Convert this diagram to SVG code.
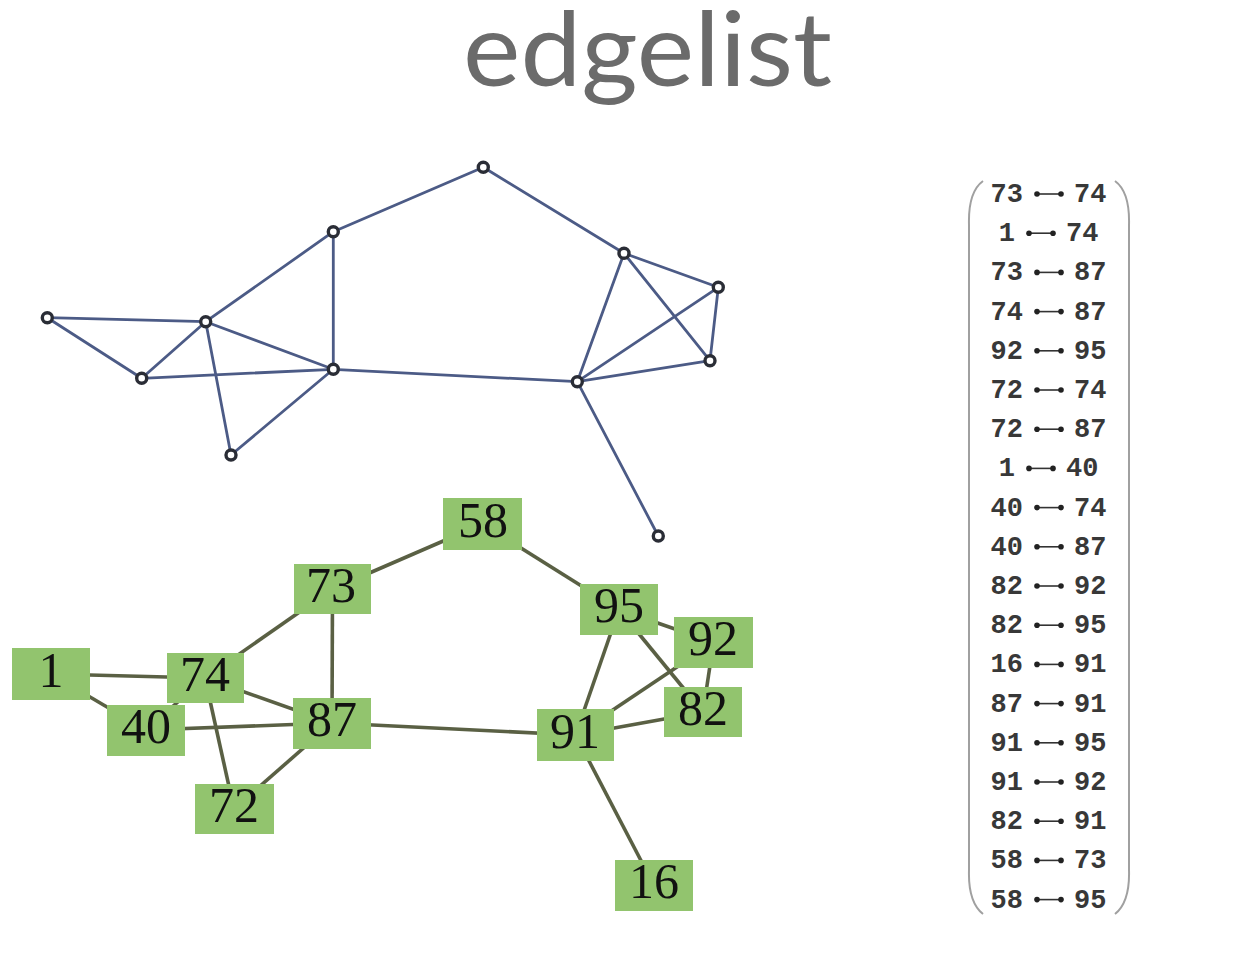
<svg xmlns="http://www.w3.org/2000/svg" xmlns:xlink="http://www.w3.org/1999/xlink" width="1253" height="967" viewBox="0 0 1253 967">
<style>
.title{font-family:Lato,"Open Sans","Liberation Sans",sans-serif;font-size:103px;fill:#6b6b6b;text-anchor:middle}
.te{stroke:#4c5b86;stroke-width:2.8;fill:none;stroke-linecap:round}
.tv{fill:#ffffff;stroke:#2a2d36;stroke-width:3.4}
.be{stroke:#5a6044;stroke-width:3.6;fill:none}
.box{fill:#92c46e}
.lbl{font-family:"Liberation Serif","Times New Roman",serif;font-size:50px;fill:#111;text-anchor:middle}
.el{font-family:"Liberation Mono","Courier New",monospace;font-size:27px;font-weight:bold;fill:#383838}
.l{text-anchor:end}
.par{stroke:#a0a0a0;stroke-width:2;fill:none}
</style>
<defs>
<g id="ue"><line x1="0" y1="0" x2="24" y2="0" stroke="#333" stroke-width="1.6"/><circle cx="0" cy="0" r="2.8" fill="#222"/><circle cx="24" cy="0" r="2.8" fill="#222"/></g>
</defs>
<rect width="1253" height="967" fill="#ffffff"/>
<text class="title" x="647.5" y="86" textLength="369" lengthAdjust="spacingAndGlyphs">edgelist</text>

<g id="top-edges">
<line class="te" x1="47.3" y1="317.7" x2="205.7" y2="321.7"/>
<line class="te" x1="47.3" y1="317.7" x2="141.7" y2="378.3"/>
<line class="te" x1="141.7" y1="378.3" x2="205.7" y2="321.7"/>
<line class="te" x1="141.7" y1="378.3" x2="333.3" y2="369.3"/>
<line class="te" x1="205.7" y1="321.7" x2="333.3" y2="231.7"/>
<line class="te" x1="205.7" y1="321.7" x2="333.3" y2="369.3"/>
<line class="te" x1="205.7" y1="321.7" x2="231" y2="455"/>
<line class="te" x1="231" y1="455" x2="333.3" y2="369.3"/>
<line class="te" x1="333.3" y1="231.7" x2="333.3" y2="369.3"/>
<line class="te" x1="333.3" y1="231.7" x2="483.3" y2="167.3"/>
<line class="te" x1="483.3" y1="167.3" x2="624" y2="253.3"/>
<line class="te" x1="333.3" y1="369.3" x2="577.3" y2="381.7"/>
<line class="te" x1="624" y1="253.3" x2="577.3" y2="381.7"/>
<line class="te" x1="624" y1="253.3" x2="718.3" y2="287.3"/>
<line class="te" x1="624" y1="253.3" x2="710" y2="360.7"/>
<line class="te" x1="718.3" y1="287.3" x2="710" y2="360.7"/>
<line class="te" x1="577.3" y1="381.7" x2="718.3" y2="287.3"/>
<line class="te" x1="577.3" y1="381.7" x2="710" y2="360.7"/>
<line class="te" x1="577.3" y1="381.7" x2="658.3" y2="536"/>
</g>
<g id="top-vertices">
<circle id="tv1" class="tv" cx="47.3" cy="317.7" r="5"/>
<circle id="tv2" class="tv" cx="205.7" cy="321.7" r="5"/>
<circle id="tv3" class="tv" cx="141.7" cy="378.3" r="5"/>
<circle id="tv4" class="tv" cx="333.3" cy="231.7" r="5"/>
<circle id="tv5" class="tv" cx="333.3" cy="369.3" r="5"/>
<circle id="tv6" class="tv" cx="231" cy="455" r="5"/>
<circle id="tv7" class="tv" cx="483.3" cy="167.3" r="5"/>
<circle id="tv8" class="tv" cx="624" cy="253.3" r="5"/>
<circle id="tv9" class="tv" cx="718.3" cy="287.3" r="5"/>
<circle id="tv10" class="tv" cx="710" cy="360.7" r="5"/>
<circle id="tv11" class="tv" cx="577.3" cy="381.7" r="5"/>
<circle id="tv12" class="tv" cx="658.3" cy="536" r="5"/>
</g>

<g id="connectors">
<line class="be" x1="332.5" y1="589" x2="205" y2="678"/>
<line class="be" x1="51" y1="674" x2="205" y2="678"/>
<line class="be" x1="332.5" y1="589" x2="332" y2="723"/>
<line class="be" x1="205" y1="678" x2="332" y2="723"/>
<line class="be" x1="713.5" y1="642.5" x2="619" y2="609.5"/>
<line class="be" x1="234" y1="809" x2="205" y2="678"/>
<line class="be" x1="234" y1="809" x2="332" y2="723"/>
<line class="be" x1="51" y1="674" x2="146" y2="730"/>
<line class="be" x1="146" y1="730" x2="205" y2="678"/>
<line class="be" x1="146" y1="730" x2="332" y2="723"/>
<line class="be" x1="703" y1="712" x2="713.5" y2="642.5"/>
<line class="be" x1="703" y1="712" x2="619" y2="609.5"/>
<line class="be" x1="654" y1="885.5" x2="575.5" y2="735"/>
<line class="be" x1="332" y1="723" x2="575.5" y2="735"/>
<line class="be" x1="575.5" y1="735" x2="619" y2="609.5"/>
<line class="be" x1="575.5" y1="735" x2="713.5" y2="642.5"/>
<line class="be" x1="703" y1="712" x2="575.5" y2="735"/>
<line class="be" x1="482.5" y1="524" x2="332.5" y2="589"/>
<line class="be" x1="482.5" y1="524" x2="619" y2="609.5"/>
</g>

<g id="n1"><rect class="box" x="12" y="648" width="78" height="52"/><text class="lbl" x="51" y="687">1</text></g>
<g id="n74"><rect class="box" x="167" y="653" width="77" height="50"/><text class="lbl" x="205" y="691">74</text></g>
<g id="n40"><rect class="box" x="107" y="705" width="78" height="51"/><text class="lbl" x="146" y="743">40</text></g>
<g id="n87"><rect class="box" x="293" y="698" width="78" height="51"/><text class="lbl" x="332" y="736">87</text></g>
<g id="n72"><rect class="box" x="195" y="784" width="79" height="50"/><text class="lbl" x="234" y="822">72</text></g>
<g id="n73"><rect class="box" x="294" y="564" width="77" height="50"/><text class="lbl" x="331" y="602">73</text></g>
<g id="n58"><rect class="box" x="443" y="498" width="79" height="52"/><text class="lbl" x="483" y="537">58</text></g>
<g id="n95"><rect class="box" x="580" y="584" width="78" height="51"/><text class="lbl" x="619" y="622">95</text></g>
<g id="n92"><rect class="box" x="674" y="617" width="79" height="51"/><text class="lbl" x="713" y="655">92</text></g>
<g id="n82"><rect class="box" x="664" y="687" width="78" height="50"/><text class="lbl" x="703" y="725">82</text></g>
<g id="n91"><rect class="box" x="537" y="709" width="77" height="52"/><text class="lbl" x="575" y="748">91</text></g>
<g id="n16"><rect class="box" x="615" y="860" width="78" height="51"/><text class="lbl" x="654" y="898">16</text></g>

<g id="edgelist">
<path class="par" d="M983 181 Q968 192 969 225 L969 870 Q968 902 983 914"/>
<path class="par" d="M1115 181 Q1130 192 1129 225 L1129 870 Q1130 902 1115 914"/>
<text class="el l" x="1023" y="202">73</text><use xlink:href="#ue" x="1037" y="194"/><text class="el" x="1074" y="202">74</text>
<text class="el l" x="1015" y="241.2">1</text><use xlink:href="#ue" x="1029" y="233.2"/><text class="el" x="1066" y="241.2">74</text>
<text class="el l" x="1023" y="280.4">73</text><use xlink:href="#ue" x="1037" y="272.4"/><text class="el" x="1074" y="280.4">87</text>
<text class="el l" x="1023" y="319.6">74</text><use xlink:href="#ue" x="1037" y="311.6"/><text class="el" x="1074" y="319.6">87</text>
<text class="el l" x="1023" y="358.8">92</text><use xlink:href="#ue" x="1037" y="350.8"/><text class="el" x="1074" y="358.8">95</text>
<text class="el l" x="1023" y="398">72</text><use xlink:href="#ue" x="1037" y="390"/><text class="el" x="1074" y="398">74</text>
<text class="el l" x="1023" y="437.2">72</text><use xlink:href="#ue" x="1037" y="429.2"/><text class="el" x="1074" y="437.2">87</text>
<text class="el l" x="1015" y="476.4">1</text><use xlink:href="#ue" x="1029" y="468.4"/><text class="el" x="1066" y="476.4">40</text>
<text class="el l" x="1023" y="515.6">40</text><use xlink:href="#ue" x="1037" y="507.6"/><text class="el" x="1074" y="515.6">74</text>
<text class="el l" x="1023" y="554.8">40</text><use xlink:href="#ue" x="1037" y="546.8"/><text class="el" x="1074" y="554.8">87</text>
<text class="el l" x="1023" y="594">82</text><use xlink:href="#ue" x="1037" y="586"/><text class="el" x="1074" y="594">92</text>
<text class="el l" x="1023" y="633.2">82</text><use xlink:href="#ue" x="1037" y="625.2"/><text class="el" x="1074" y="633.2">95</text>
<text class="el l" x="1023" y="672.4">16</text><use xlink:href="#ue" x="1037" y="664.4"/><text class="el" x="1074" y="672.4">91</text>
<text class="el l" x="1023" y="711.6">87</text><use xlink:href="#ue" x="1037" y="703.6"/><text class="el" x="1074" y="711.6">91</text>
<text class="el l" x="1023" y="750.8">91</text><use xlink:href="#ue" x="1037" y="742.8"/><text class="el" x="1074" y="750.8">95</text>
<text class="el l" x="1023" y="790">91</text><use xlink:href="#ue" x="1037" y="782"/><text class="el" x="1074" y="790">92</text>
<text class="el l" x="1023" y="829.2">82</text><use xlink:href="#ue" x="1037" y="821.2"/><text class="el" x="1074" y="829.2">91</text>
<text class="el l" x="1023" y="868.4">58</text><use xlink:href="#ue" x="1037" y="860.4"/><text class="el" x="1074" y="868.4">73</text>
<text class="el l" x="1023" y="907.6">58</text><use xlink:href="#ue" x="1037" y="899.6"/><text class="el" x="1074" y="907.6">95</text>
</g>
</svg>
